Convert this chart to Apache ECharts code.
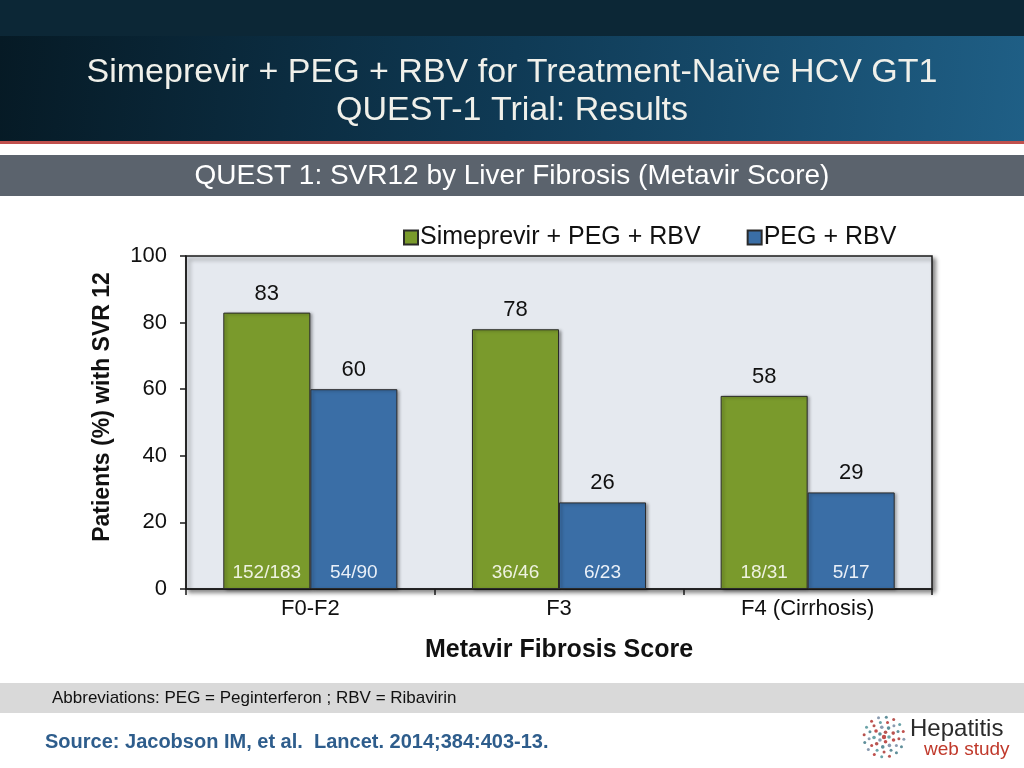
<!DOCTYPE html>
<html>
<head>
<meta charset="utf-8">
<script src="https://cdn.jsdelivr.net/npm/echarts@6/dist/echarts.min.js"></script>
<style>
html,body{margin:0;padding:0;background:#fff;}
#chart{width:1024px;height:768px;}
</style>
</head>
<body>
<div id="chart"></div>
<script>
const categories = ['F0-F2', 'F3', 'F4 (Cirrhosis)'];
const seriesNames = ['Simeprevir + PEG + RBV', 'PEG + RBV'];
const simeprevirValues = [83, 78, 58];
const pegValues = [60, 26, 29];
const simeprevirCounts = ['152/183', '36/46', '18/31'];
const pegCounts = ['54/90', '6/23', '5/17'];
const yTicks = [0, 20, 40, 60, 80, 100];

const FONT = '"Liberation Sans", Arial, sans-serif';
const GREEN = '#7a9a2c';
const BLUE = '#3a6ea6';

const chart = echarts.init(document.getElementById('chart'));

// logo dots
const logoDots = [];
const dotColors = ['#6aa3a8', '#c0504d', '#8a9bb0', '#5f8f9a', '#b85450'];
const rings = [{r: 5, n: 5}, {r: 10, n: 9}, {r: 15, n: 13}, {r: 20, n: 16}];
rings.forEach((ring, ri) => {
  for (let i = 0; i < ring.n; i++) {
    const a = (i / ring.n) * Math.PI * 2 + ri * 0.3;
    logoDots.push({
      type: 'circle',
      shape: {cx: 884 + Math.cos(a) * ring.r, cy: 737 + Math.sin(a) * ring.r, r: ri < 2 ? 1.8 : 1.5},
      style: {fill: dotColors[(i + ri) % dotColors.length]},
      silent: true
    });
  }
});
logoDots.push({type: 'circle', shape: {cx: 884, cy: 737, r: 2.2}, style: {fill: '#c0504d'}, silent: true});

const option = {
  backgroundColor: '#ffffff',
  animation: false,
  textStyle: {fontFamily: FONT},
  graphic: [
    {type: 'rect', shape: {x: 0, y: 0, width: 1024, height: 36}, style: {fill: '#0c2736'}, silent: true, z: -10},
    {type: 'rect', shape: {x: 0, y: 36, width: 1024, height: 105},
      style: {fill: new echarts.graphic.LinearGradient(0, 0, 1, 1, [
        {offset: 0, color: '#061a25'}, {offset: 0.5, color: '#0f3a55'}, {offset: 1, color: '#1f5f86'}])},
      silent: true, z: -10},
    {type: 'rect', shape: {x: 0, y: 141, width: 1024, height: 3}, style: {fill: '#c0504d'}, silent: true},
    {type: 'rect', shape: {x: 0, y: 155, width: 1024, height: 41}, style: {fill: '#5b636d'}, silent: true},
    {type: 'text', x: 512, y: 73, style: {text: 'Simeprevir + PEG + RBV for Treatment-Naïve HCV GT1', fill: '#f0f0ea', font: '34px ' + FONT, align: 'center', verticalAlign: 'middle'}, silent: true},
    {type: 'text', x: 512, y: 111, style: {text: 'QUEST-1 Trial: Results', fill: '#f0f0ea', font: '34px ' + FONT, align: 'center', verticalAlign: 'middle'}, silent: true},
    {type: 'text', x: 512, y: 176, style: {text: 'QUEST 1: SVR12 by Liver Fibrosis (Metavir Score)', fill: '#ffffff', font: '28px ' + FONT, align: 'center', verticalAlign: 'middle'}, silent: true},
    {type: 'text', x: 103, y: 407, rotation: Math.PI / 2,
      style: {text: 'Patients (%) with SVR 12', fill: '#111', font: 'bold 23px ' + FONT, align: 'center', verticalAlign: 'middle'}, silent: true},
    {type: 'rect', shape: {x: 0, y: 683, width: 1024, height: 30}, style: {fill: '#d9d9d9'}, silent: true},
    {type: 'text', x: 52, y: 698, style: {text: 'Abbreviations: PEG = Peginterferon ; RBV = Ribavirin', fill: '#111', font: '17px ' + FONT, verticalAlign: 'middle'}, silent: true},
    {type: 'text', x: 45, y: 742, style: {text: 'Source: Jacobson IM, et al.  Lancet. 2014;384:403-13.', fill: '#2e5d8c', font: 'bold 20px ' + FONT, verticalAlign: 'middle'}, silent: true},
    {type: 'text', x: 910, y: 729, style: {text: 'Hepatitis', fill: '#2b2b2b', font: '24px ' + FONT, verticalAlign: 'middle'}, silent: true},
    {type: 'text', x: 924, y: 750, style: {text: 'web study', fill: '#c0392b', font: '19px ' + FONT, verticalAlign: 'middle'}, silent: true}
  ].concat(logoDots),
  legend: {
    data: seriesNames,
    top: 220,
    left: 398,
    itemWidth: 14,
    itemHeight: 14,
    itemGap: 46,
    icon: 'rect',
    textStyle: {fontSize: 25, color: '#111', fontFamily: FONT, padding: [0, 0, 0, -3]}
  },
  grid: {
    left: 186, right: 92, top: 256, bottom: 179,
    show: true,
    backgroundColor: '#e5e9ef',
    borderColor: '#1a1a1a',
    borderWidth: 1.5,
    shadowColor: 'rgba(0,0,0,0.45)',
    shadowBlur: 4,
    shadowOffsetX: 3,
    shadowOffsetY: 3
  },
  xAxis: {
    type: 'category',
    data: categories,
    axisLine: {lineStyle: {color: '#1a1a1a', width: 1.5}},
    axisTick: {show: true, length: 6, lineStyle: {color: '#1a1a1a', width: 1.5}},
    axisLabel: {fontSize: 22, color: '#111', margin: 9, fontFamily: FONT},
    name: 'Metavir Fibrosis Score',
    nameLocation: 'middle',
    nameGap: 49,
    nameTextStyle: {fontSize: 25, fontWeight: 'bold', color: '#111', fontFamily: FONT}
  },
  yAxis: {
    type: 'value',
    min: 0, max: 100, interval: 20,
    axisLine: {show: true, lineStyle: {color: '#1a1a1a', width: 1.5}},
    axisTick: {show: true, length: 6, lineStyle: {color: '#1a1a1a', width: 1.5}},
    axisLabel: {fontSize: 22, color: '#111', margin: 19, fontFamily: FONT,
      formatter: v => yTicks.indexOf(v) >= 0 ? String(v) : ''},
    splitLine: {show: false}
  },
  series: [
    {
      name: 'countsA', type: 'bar', stack: 'a', data: simeprevirCounts.map(() => 0),
      barGap: '0%', barCategoryGap: '30%',
      itemStyle: {color: 'rgba(0,0,0,0)'},
      label: {show: true, position: 'top', distance: 7, formatter: p => simeprevirCounts[p.dataIndex],
        fontSize: 19, color: '#eef2e0', fontFamily: FONT},
      z: 5, silent: true, legendHoverLink: false
    },
    {
      name: seriesNames[0], type: 'bar', stack: 'a', data: simeprevirValues,
      barGap: '0%', barCategoryGap: '30%',
      itemStyle: {color: GREEN, borderColor: '#2a2a2a', borderWidth: 1,
        shadowColor: 'rgba(0,0,0,0.35)', shadowBlur: 3, shadowOffsetX: 2, shadowOffsetY: 1},
      label: {show: true, position: 'top', distance: 8, fontSize: 22, color: '#111', fontFamily: FONT},
      z: 2
    },
    {
      name: 'countsB', type: 'bar', stack: 'b', data: pegCounts.map(() => 0),
      barGap: '0%', barCategoryGap: '30%',
      itemStyle: {color: 'rgba(0,0,0,0)'},
      label: {show: true, position: 'top', distance: 7, formatter: p => pegCounts[p.dataIndex],
        fontSize: 19, color: '#eaf0f8', fontFamily: FONT},
      z: 5, silent: true, legendHoverLink: false
    },
    {
      name: seriesNames[1], type: 'bar', stack: 'b', data: pegValues,
      barGap: '0%', barCategoryGap: '30%',
      itemStyle: {color: BLUE, borderColor: '#2a2a2a', borderWidth: 1,
        shadowColor: 'rgba(0,0,0,0.35)', shadowBlur: 3, shadowOffsetX: 2, shadowOffsetY: 1},
      label: {show: true, position: 'top', distance: 8, fontSize: 22, color: '#111', fontFamily: FONT},
      z: 2
    }
  ]
};
chart.setOption(option);
</script>
</body>
</html>
